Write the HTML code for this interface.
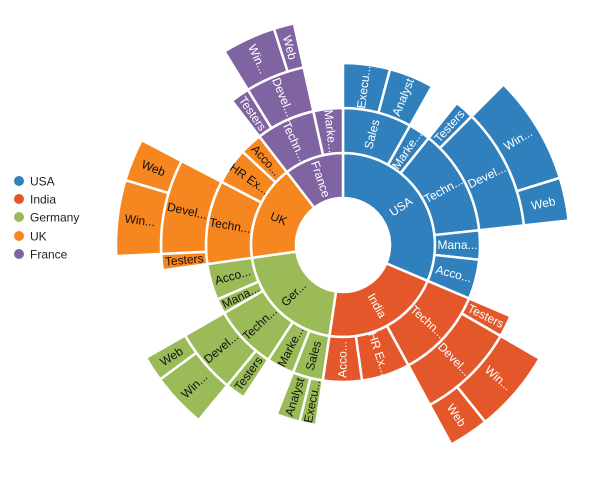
<!DOCTYPE html>
<html><head><meta charset="utf-8">
<style>
html,body{margin:0;padding:0;background:#fff;width:601px;height:488px;overflow:hidden}
svg{display:block;font-family:"Liberation Sans",sans-serif}
</style></head>
<body>
<svg id="s" width="601" height="488" viewBox="0 0 601 488" xmlns="http://www.w3.org/2000/svg">
<g font-size="12" fill="#222">
<circle cx="19" cy="181" r="5" fill="#2f80bd"/><text x="30" y="185.5">USA</text>
<circle cx="19" cy="199" r="5" fill="#e4572a"/><text x="30" y="203.5">India</text>
<circle cx="19" cy="217" r="5" fill="#9bbb59"/><text x="30" y="221.5">Germany</text>
<circle cx="19" cy="236" r="5" fill="#f6861f"/><text x="30" y="240.5">UK</text>
<circle cx="19" cy="254" r="5" fill="#8064a2"/><text x="30" y="258.5">France</text>
</g>
</svg>
<script>
var cx=343,cy=245,R=[47,92,137,182,227];
var C={u:"#2f80bd",i:"#e4572a",g:"#9bbb59",k:"#f6861f",f:"#8064a2"};
var W={u:"#fff",i:"#fff",g:"#111",k:"#111",f:"#fff"};
// [country, ring, a0, a1, label]
var D=[
["u",0,0,113,"USA"],["i",0,113,188.5,"India"],["g",0,188.5,262,"Ger..."],["k",0,262,322.4,"UK"],["f",0,322.4,360,"France"],
["u",1,0,29.3,"Sales"],["u",1,29.3,38.7,"Marke..."],["u",1,38.7,83.8,"Techn..."],["u",1,83.8,96.2,"Mana..."],["u",1,96.2,113,"Acco..."],
["u",2,0,15,"Execu..."],["u",2,15,29.3,"Analyst"],["u",2,38.7,45,"Testers"],["u",2,45,83.8,"Devel..."],
["u",3,45,72.8,"Win..."],["u",3,72.8,83.8,"Web"],
["i",1,113,151.5,"Techn..."],["i",1,151.5,172,"HR Ex..."],["i",1,172,188.5,"Acco..."],
["i",2,113,120,"Testers"],["i",2,120,151.5,"Devel..."],
["i",3,120,141.2,"Win..."],["i",3,141.2,151.5,"Web"],
["g",1,188.5,201.4,"Sales"],["g",1,201.4,213.1,"Marke..."],["g",1,213.1,240.2,"Techn..."],["g",1,240.2,246.6,"Mana..."],["g",1,246.6,262,"Acco..."],
["g",2,188.5,193.8,"Execu..."],["g",2,193.8,201.4,"Analyst"],["g",2,213.1,219.5,"Testers"],["g",2,219.5,240.2,"Devel..."],
["g",3,219.5,233.7,"Win..."],["g",3,233.7,240.2,"Web"],
["k",1,262,297.5,"Techn..."],["k",1,297.5,312.9,"HR Ex..."],["k",1,312.9,322.4,"Acco..."],
["k",2,262,267.2,"Testers"],["k",2,267.2,297.5,"Devel..."],
["k",3,267.2,286.6,"Win..."],["k",3,286.6,297.5,"Web"],
["f",1,322.4,347.5,"Techn..."],["f",1,347.5,360,"Marke..."],
["f",2,322.4,328.5,"Testers"],["f",2,328.5,347.5,"Devel..."],
["f",3,328.5,342.3,"Win..."],["f",3,342.3,347.5,"Web"]
];
function P(a,r){var t=(a-90)*Math.PI/180;return [cx+r*Math.cos(t),cy+r*Math.sin(t)];}
var s=document.getElementById("s"),h="";
D.forEach(function(d){
 var r0=R[d[1]],r1=R[d[1]+1],a0=d[2],a1=d[3],lg=(a1-a0)>180?1:0;
 var p1=P(a0,r1),p2=P(a1,r1),p3=P(a1,r0),p4=P(a0,r0);
 h+='<path d="M'+p4[0]+' '+p4[1]+'L'+p1[0]+' '+p1[1]+'A'+r1+' '+r1+' 0 '+lg+' 1 '+p2[0]+' '+p2[1]+'L'+p3[0]+' '+p3[1]+'A'+r0+' '+r0+' 0 '+lg+' 0 '+p4[0]+' '+p4[1]+'Z" fill="'+C[d[0]]+'" stroke="#fff" stroke-width="2.5"/>';
});
D.forEach(function(d){
 var r0=R[d[1]],r1=R[d[1]+1],m=(d[2]+d[3])/2,p=P(m,(r0+r1)/2);
 var th=m<180?m-90:m+90;
 h+='<text x="'+p[0]+'" y="'+p[1]+'" transform="rotate('+th+' '+p[0]+' '+p[1]+')" text-anchor="middle" dominant-baseline="central" font-size="12" fill="'+W[d[0]]+'">'+d[4]+'</text>';
});
s.insertAdjacentHTML("afterbegin",h);
</script>
</body></html>
